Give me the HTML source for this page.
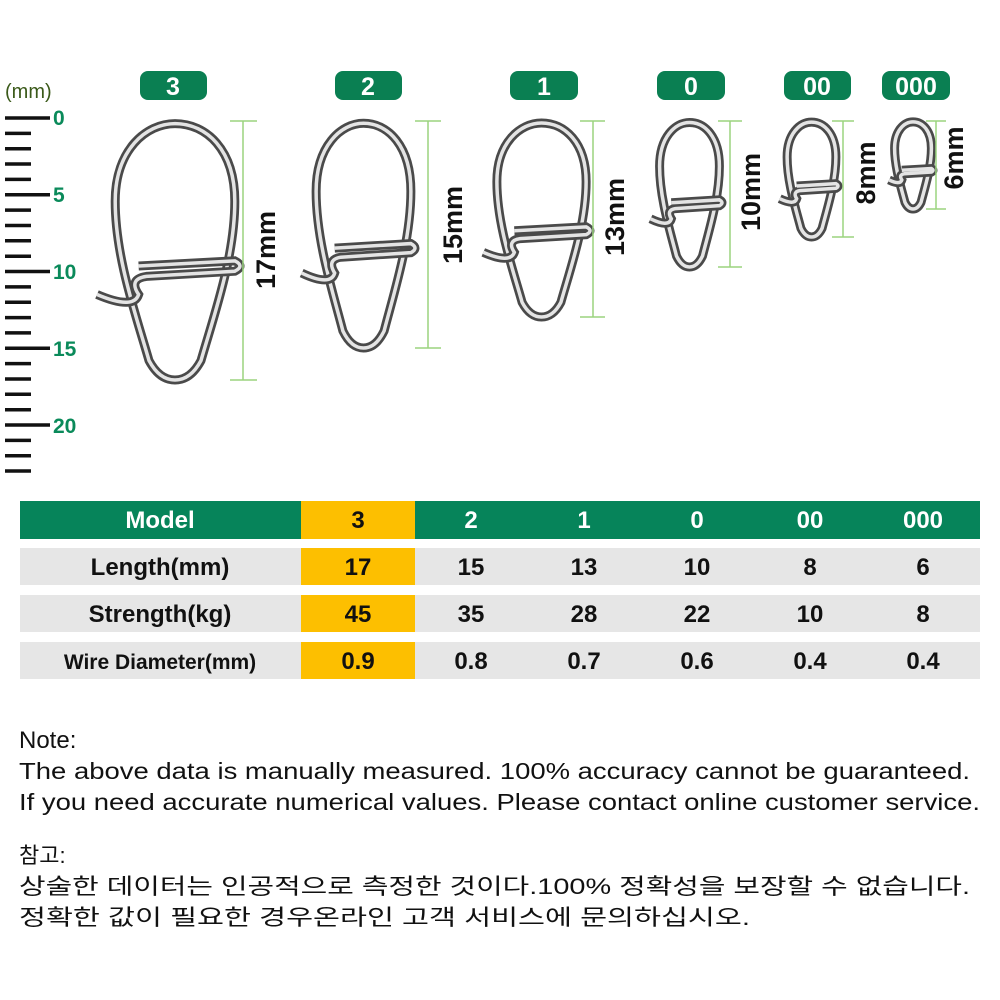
<!DOCTYPE html>
<html><head><style>
html,body{margin:0;padding:0;background:#fff;}
svg{display:block;}
text{font-family:"Liberation Sans","Noto Sans CJK KR",sans-serif;}
</style></head><body>
<svg width="1000" height="1000" viewBox="0 0 1000 1000" xmlns="http://www.w3.org/2000/svg">
<defs>
<g id="pin">
<path d="M30,185 C20,150 4,105 4,62 C4,22 28,2 50,2 C74,2 96,22 96,62 C96,105 80,150 70,185 Q62,200 50,200 Q38,200 30,185 Z" fill="none" stroke="#4a4a4a" stroke-width="9" vector-effect="non-scaling-stroke"/>
<path d="M30,185 C20,150 4,105 4,62 C4,22 28,2 50,2 C74,2 96,22 96,62 C96,105 80,150 70,185 Q62,200 50,200 Q38,200 30,185 Z" fill="none" stroke="#e4e4e4" stroke-width="3.5" vector-effect="non-scaling-stroke"/>
<path d="M22,112 L96,108 Q104,112 96,116 L28,120 Q14,122 22,134 Q18,146 -10,134" fill="none" stroke="#4a4a4a" stroke-width="9" vector-effect="non-scaling-stroke"/>
<path d="M22,112 L96,108 Q104,112 96,116 L28,120 Q14,122 22,134 Q18,146 -10,134" fill="none" stroke="#e4e4e4" stroke-width="3.5" vector-effect="non-scaling-stroke"/>
</g>
</defs>
<text x="5" y="98" font-size="20" fill="#3b5a1a">(mm)</text>
<g stroke="#111" stroke-width="3.5">
<line x1="5" y1="118" x2="50" y2="118"/><line x1="5" y1="133.4" x2="31" y2="133.4"/><line x1="5" y1="148.7" x2="31" y2="148.7"/><line x1="5" y1="164" x2="31" y2="164"/><line x1="5" y1="179.4" x2="31" y2="179.4"/>
<line x1="5" y1="194.8" x2="50" y2="194.8"/><line x1="5" y1="210.1" x2="31" y2="210.1"/><line x1="5" y1="225.5" x2="31" y2="225.5"/><line x1="5" y1="240.8" x2="31" y2="240.8"/><line x1="5" y1="256.2" x2="31" y2="256.2"/>
<line x1="5" y1="271.5" x2="50" y2="271.5"/><line x1="5" y1="286.9" x2="31" y2="286.9"/><line x1="5" y1="302.2" x2="31" y2="302.2"/><line x1="5" y1="317.6" x2="31" y2="317.6"/><line x1="5" y1="332.9" x2="31" y2="332.9"/>
<line x1="5" y1="348.3" x2="50" y2="348.3"/><line x1="5" y1="363.6" x2="31" y2="363.6"/><line x1="5" y1="379" x2="31" y2="379"/><line x1="5" y1="394.3" x2="31" y2="394.3"/><line x1="5" y1="409.7" x2="31" y2="409.7"/>
<line x1="5" y1="425" x2="50" y2="425"/><line x1="5" y1="440.4" x2="31" y2="440.4"/><line x1="5" y1="455.7" x2="31" y2="455.7"/><line x1="5" y1="471" x2="31" y2="471"/>
</g>
<g fill="#0a8a5a" font-size="21" font-weight="bold">
<text x="53" y="125">0</text><text x="53" y="202">5</text><text x="53" y="279">10</text><text x="53" y="356">15</text><text x="53" y="433">20</text>
</g>
<g fill="#0a7f52">
<rect x="140" y="71" width="67" height="29" rx="8"/><rect x="335" y="71" width="67" height="29" rx="8"/><rect x="510" y="71" width="68" height="29" rx="8"/>
<rect x="657" y="71" width="68" height="29" rx="8"/><rect x="784" y="71" width="67" height="29" rx="8"/><rect x="882" y="71" width="68" height="29" rx="8"/>
</g>
<g fill="#fff" font-size="25" font-weight="bold" text-anchor="middle">
<text x="173" y="95">3</text><text x="368" y="95">2</text><text x="544" y="95">1</text><text x="691" y="95">0</text><text x="817" y="95">00</text><text x="916" y="95">000</text>
</g>
<use href="#pin" transform="translate(110,121) scale(1.3,1.295)"/>
<use href="#pin" transform="translate(312,121) scale(1.03,1.135)"/>
<use href="#pin" transform="translate(493,121) scale(0.97,0.98)"/>
<use href="#pin" transform="translate(657,121) scale(0.65,0.73)"/>
<use href="#pin" transform="translate(785,121) scale(0.53,0.58)"/>
<use href="#pin" transform="translate(893,121) scale(0.40,0.44)"/>
<g stroke="#9bd47f" stroke-width="1.5">
<line x1="243" y1="121" x2="243" y2="380"/><line x1="230" y1="121" x2="257" y2="121"/><line x1="230" y1="380" x2="257" y2="380"/>
<line x1="428" y1="121" x2="428" y2="348"/><line x1="415" y1="121" x2="441" y2="121"/><line x1="415" y1="348" x2="441" y2="348"/>
<line x1="593" y1="121" x2="593" y2="317"/><line x1="580" y1="121" x2="605" y2="121"/><line x1="580" y1="317" x2="605" y2="317"/>
<line x1="730" y1="121" x2="730" y2="267"/><line x1="718" y1="121" x2="742" y2="121"/><line x1="718" y1="267" x2="742" y2="267"/>
<line x1="843" y1="121" x2="843" y2="237"/><line x1="832" y1="121" x2="854" y2="121"/><line x1="832" y1="237" x2="854" y2="237"/>
<line x1="936" y1="121" x2="936" y2="209"/><line x1="926" y1="121" x2="946" y2="121"/><line x1="926" y1="209" x2="946" y2="209"/>
</g>
<g fill="#111" font-size="27" font-weight="bold" text-anchor="middle">
<text transform="translate(275,250) rotate(-90)">17mm</text>
<text transform="translate(462,225) rotate(-90)">15mm</text>
<text transform="translate(624,217) rotate(-90)">13mm</text>
<text transform="translate(760,192) rotate(-90)">10mm</text>
<text transform="translate(875,173) rotate(-90)">8mm</text>
<text transform="translate(963,158) rotate(-90)">6mm</text>
</g>
<rect x="20" y="501" width="960" height="38" fill="#06845a"/>
<rect x="20" y="548" width="960" height="37" fill="#e6e6e6"/>
<rect x="20" y="595" width="960" height="37" fill="#e6e6e6"/>
<rect x="20" y="642" width="960" height="37" fill="#e6e6e6"/>
<rect x="301" y="501" width="114" height="38" fill="#fdbf00"/>
<rect x="301" y="548" width="114" height="37" fill="#fdbf00"/>
<rect x="301" y="595" width="114" height="37" fill="#fdbf00"/>
<rect x="301" y="642" width="114" height="37" fill="#fdbf00"/>
<g font-size="24" font-weight="bold" text-anchor="middle" fill="#fff">
<text x="160" y="528">Model</text><text x="471" y="528">2</text><text x="584" y="528">1</text><text x="697" y="528">0</text><text x="810" y="528">00</text><text x="923" y="528">000</text>
</g>
<g font-size="24" font-weight="bold" text-anchor="middle" fill="#111">
<text x="358" y="528">3</text>
<text x="160" y="575">Length(mm)</text><text x="358" y="575">17</text><text x="471" y="575">15</text><text x="584" y="575">13</text><text x="697" y="575">10</text><text x="810" y="575">8</text><text x="923" y="575">6</text>
<text x="160" y="622">Strength(kg)</text><text x="358" y="622">45</text><text x="471" y="622">35</text><text x="584" y="622">28</text><text x="697" y="622">22</text><text x="810" y="622">10</text><text x="923" y="622">8</text>
<text x="160" y="669" font-size="21">Wire Diameter(mm)</text><text x="358" y="669">0.9</text><text x="471" y="669">0.8</text><text x="584" y="669">0.7</text><text x="697" y="669">0.6</text><text x="810" y="669">0.4</text><text x="923" y="669">0.4</text>
</g>
<g font-size="23" fill="#111">
<text x="19" y="748" font-size="24">Note:</text>
<text x="19" y="779" textLength="951" lengthAdjust="spacingAndGlyphs">The above data is manually measured. 100% accuracy cannot be guaranteed.</text>
<text x="19" y="810" textLength="961" lengthAdjust="spacingAndGlyphs">If you need accurate numerical values. Please contact online customer service.</text>
<text x="19" y="863" font-size="22">참고:</text>
<text x="19" y="894" font-size="22" textLength="951" lengthAdjust="spacingAndGlyphs">상술한 데이터는 인공적으로 측정한 것이다.100% 정확성을 보장할 수 없습니다.</text>
<text x="19" y="925" font-size="22" textLength="731" lengthAdjust="spacingAndGlyphs">정확한 값이 필요한 경우온라인 고객 서비스에 문의하십시오.</text>
</g>
</svg>
</body></html>
